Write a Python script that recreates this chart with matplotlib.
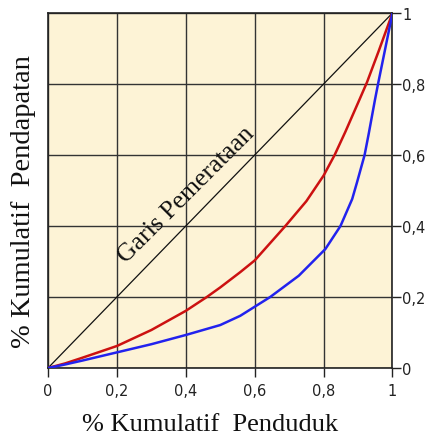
import matplotlib
matplotlib.use("Agg")
import matplotlib.pyplot as plt
from matplotlib.ticker import FixedLocator, FixedFormatter

# Data
x_red = [0, 0.05, 0.1, 0.2, 0.3, 0.4, 0.461, 0.5, 0.558, 0.6, 0.689, 0.75, 0.8, 0.832,
         0.863, 0.905, 0.926, 0.96, 1.0]
y_red = [0, 0.013, 0.029, 0.062, 0.107, 0.161, 0.200, 0.227, 0.270, 0.303, 0.40, 0.47, 0.542, 0.60,
         0.665, 0.758, 0.805, 0.893, 1.0]
x_blue = [0, 0.05, 0.1, 0.2, 0.3, 0.4, 0.5, 0.558, 0.645, 0.728, 0.805, 0.849, 0.883, 0.897,
          0.919, 0.931, 0.949, 0.958, 1.0]
y_blue = [0, 0.010, 0.021, 0.044, 0.067, 0.093, 0.121, 0.147, 0.20, 0.26, 0.335, 0.40, 0.476, 0.523,
          0.60, 0.66, 0.755, 0.80, 1.0]
x_eq = [0, 1]
y_eq = [0, 1]
ticks = [0, 0.2, 0.4, 0.6, 0.8, 1.0]
tick_labels = ["0", "0,2", "0,4", "0,6", "0,8", "1"]
xlabel = "% Kumulatif  Penduduk"
ylabel = "% Kumulatif  Pendapatan"
eq_label = "Garis Pemerataan"

fig = plt.figure(figsize=(4.27, 4.35), dpi=100)
ax = fig.add_axes([48/427, 1-369/435, 344.5/427, 355/435])
ax.set_facecolor("#FDF3D6")
ax.set_xlim(0, 1)
ax.set_ylim(0, 1)

ax.xaxis.set_major_locator(FixedLocator(ticks))
ax.yaxis.set_major_locator(FixedLocator(ticks))
ax.xaxis.set_major_formatter(FixedFormatter(tick_labels))
ax.yaxis.set_major_formatter(FixedFormatter(tick_labels))
ax.yaxis.tick_right()
ax.tick_params(axis="both", direction="out", length=6.5, width=1, labelsize=10.5,
               color="#222222")
ax.tick_params(axis="x", pad=4)
ax.tick_params(axis="y", pad=0.5)
for lab in ax.get_xticklabels() + ax.get_yticklabels():
    lab.set_family("DejaVu Sans")
    lab.set_color("#222222")

ax.grid(True, color="#333333", linewidth=1.0)
ax.set_axisbelow(True)
for s in ax.spines.values():
    s.set_color("#222222")
    s.set_linewidth(1.2)

ax.plot(x_eq, y_eq, color="#111111", linewidth=0.9, zorder=3)
ax.plot(x_red, y_red, color="#CC1111", linewidth=1.8, zorder=4, solid_joinstyle="round")
ax.plot(x_blue, y_blue, color="#2222EE", linewidth=1.8, zorder=5, solid_joinstyle="round")

ax.text(0.415, 0.478, eq_label, rotation=45, rotation_mode="anchor",
        ha="center", va="baseline", fontsize=18.5, family="Liberation Serif", color="#111111")

fig.text(0.492, 0.0099, xlabel, ha="center", va="baseline", fontsize=19,
         family="Liberation Serif", color="#111111")
fig.text(0.055, 1 - 202/435, ylabel, ha="center", va="center", rotation=90,
         fontsize=20.5, family="Liberation Serif", color="#111111")

fig.savefig("out.png", dpi=100)
